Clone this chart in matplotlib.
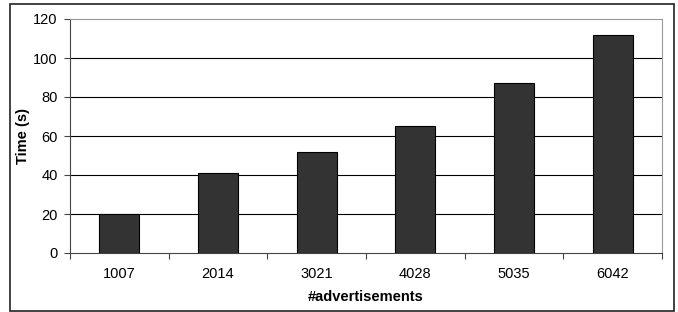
import matplotlib
matplotlib.use("Agg")
import matplotlib.pyplot as plt
from matplotlib.patches import Rectangle

categories = ["1007", "2014", "3021", "4028", "5035", "6042"]
times = [20, 41, 52, 65, 87, 112]

plt.rcParams['font.family'] = ['Liberation Sans', 'DejaVu Sans']
fig = plt.figure(figsize=(6.78, 3.12), dpi=100)
ax = fig.add_axes([70/678, 59/312, 592/678, 234/312])

x = list(range(len(categories)))
ax.bar(x, times, width=0.405, color='#333333', edgecolor='black', linewidth=0.8, zorder=3)
ax.set_xlim(-0.5, len(categories) - 0.5)
ax.set_ylim(0, 120)
ax.set_yticks(range(0, 121, 20))
ax.set_xticks(x)
ax.set_xticklabels(categories)
ax.set_xticks([i - 0.5 for i in range(len(categories) + 1)], minor=True)
ax.tick_params(axis='x', which='major', length=0, labelsize=10.5, pad=10)
ax.tick_params(axis='x', which='minor', length=4, direction='out', width=0.8, color='#444444')
ax.tick_params(axis='y', length=4, direction='out', width=0.8, labelsize=10.5, pad=5, color='#444444')
for v in range(20, 120, 20):
    ax.axhline(v, color='black', linewidth=0.8, zorder=1)
for side in ['top', 'right']:
    ax.spines[side].set_color('#999999')
    ax.spines[side].set_linewidth(0.8)
for side in ['left', 'bottom']:
    ax.spines[side].set_color('#444444')
    ax.spines[side].set_linewidth(0.8)
ax.set_ylabel('Time (s)', fontsize=10.5, fontweight='bold')
ax.set_xlabel('#advertisements', fontsize=10.5, fontweight='bold')
ax.yaxis.set_label_coords(-0.0794, 0.5)
ax.xaxis.set_label_coords(0.5, -0.188)
ax.xaxis.label.set_va('center')
ax.yaxis.label.set_va('center')

fig.patches.append(Rectangle((10/678, 1/312), 664/678, 307/312, transform=fig.transFigure,
                             fill=False, edgecolor='#222222', linewidth=1.2))
fig.savefig('out.png', dpi=100)
